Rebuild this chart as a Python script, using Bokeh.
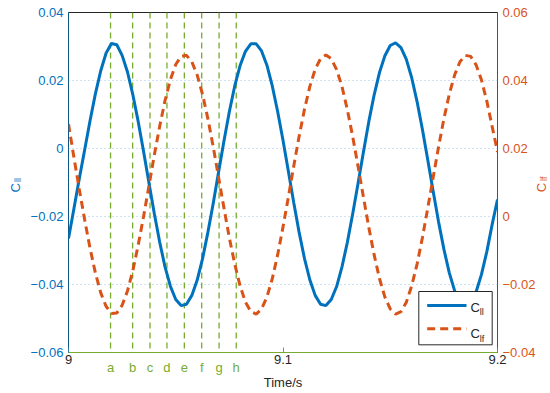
from bokeh.plotting import figure
from bokeh.models import Range1d, LinearAxis, FixedTicker, Span, Label, BoxAnnotation
from bokeh.embed import file_html
from bokeh.resources import INLINE

# ---------------- data ----------------
time = [9.0000, 9.0025, 9.0050, 9.0075, 9.0100, 9.0125, 9.0150, 9.0175, 9.0200, 9.0225,
        9.0250, 9.0275, 9.0300, 9.0325, 9.0350, 9.0375, 9.0400, 9.0425, 9.0450, 9.0475,
        9.0500, 9.0525, 9.0550, 9.0575, 9.0600, 9.0625, 9.0650, 9.0675, 9.0700, 9.0725,
        9.0750, 9.0775, 9.0800, 9.0825, 9.0850, 9.0875, 9.0900, 9.0925, 9.0950, 9.0975,
        9.1000, 9.1025, 9.1050, 9.1075, 9.1100, 9.1125, 9.1150, 9.1175, 9.1200, 9.1225,
        9.1250, 9.1275, 9.1300, 9.1325, 9.1350, 9.1375, 9.1400, 9.1425, 9.1450, 9.1475,
        9.1500, 9.1525, 9.1550, 9.1575, 9.1600, 9.1625, 9.1650, 9.1675, 9.1700, 9.1725,
        9.1750, 9.1775, 9.1800, 9.1825, 9.1850, 9.1875, 9.1900, 9.1925, 9.1950, 9.1975,
        9.2000]

c_ll = [-0.0265, -0.0178, -0.0090, -0.0005, 0.0080, 0.0160, 0.0228, 0.0280, 0.0309, 0.0305,
        0.0274, 0.0225, 0.0158, 0.0079, -0.0009, -0.0101, -0.0191, -0.0275, -0.0348, -0.0405,
        -0.0444, -0.0462, -0.0458, -0.0432, -0.0387, -0.0324, -0.0246, -0.0160, -0.0068, 0.0023,
        0.0109, 0.0184, 0.0244, 0.0286, 0.0308, 0.0308, 0.0287, 0.0245, 0.0184, 0.0109,
        0.0024, -0.0067, -0.0159, -0.0246, -0.0323, -0.0386, -0.0432, -0.0458, -0.0462, -0.0444,
        -0.0406, -0.0348, -0.0276, -0.0192, -0.0102, -0.0010, 0.0079, 0.0158, 0.0224, 0.0273,
        0.0303, 0.0311, 0.0297, 0.0262, 0.0208, 0.0138, 0.0056, -0.0034, -0.0126, -0.0215,
        -0.0296, -0.0365, -0.0418, -0.0451, -0.0463, -0.0453, -0.0422, -0.0371, -0.0304, -0.0224,
        -0.0150]

c_lf = [0.0272, 0.0175, 0.0081, -0.0008, -0.0092, -0.0165, -0.0224, -0.0264, -0.0285, -0.0284,
        -0.0261, -0.0219, -0.0159, -0.0084, 0.0000, 0.0090, 0.0180, 0.0265, 0.0341, 0.0402,
        0.0447, 0.0471, 0.0474, 0.0455, 0.0416, 0.0359, 0.0287, 0.0204, 0.0114, 0.0024,
        -0.0063, -0.0140, -0.0204, -0.0252, -0.0280, -0.0287, -0.0272, -0.0237, -0.0183, -0.0113,
        -0.0031, 0.0057, 0.0148, 0.0235, 0.0315, 0.0382, 0.0433, 0.0464, 0.0475, 0.0464,
        0.0432, 0.0382, 0.0314, 0.0235, 0.0147, 0.0057, -0.0032, -0.0113, -0.0183, -0.0237,
        -0.0272, -0.0287, -0.0280, -0.0252, -0.0204, -0.0140, -0.0062, 0.0025, 0.0115, 0.0204,
        0.0287, 0.0359, 0.0416, 0.0455, 0.0474, 0.0471, 0.0446, 0.0402, 0.0340, 0.0265,
        0.0190]

event_times = [9.0196, 9.0299, 9.0380, 9.0459, 9.0540, 9.0621, 9.0702, 9.0782]
event_labels = ["a", "b", "c", "d", "e", "f", "g", "h"]

x_tick_values = [9.0, 9.1, 9.2]
x_tick_labels = ["9", "9.1", "9.2"]
left_tick_values = [-0.06, -0.04, -0.02, 0.0, 0.02, 0.04]
left_tick_labels = ["\u22120.06", "\u22120.04", "\u22120.02", "0", "0.02", "0.04"]
right_tick_values = [-0.04, -0.02, 0.0, 0.02, 0.04, 0.06]
right_tick_labels = ["\u22120.04", "\u22120.02", "0", "0.02", "0.04", "0.06"]
grid_values = [-0.04, -0.02, 0.0, 0.02]

series_names = ["C", "C"]
series_subs = ["ll", "lf"]
x_title = "Time/s"

# legend geometry (data units of the left axis)
LEG_BOX = dict(left=9.16331, right=9.19753, top=-0.04206, bottom=-0.05774)
LEG_SAMPLE_X = [9.16722, 9.18555]
LEG_ROW_Y = [-0.04618, -0.05303]
LEG_TEXT_X = 9.18741
LEG_SUB_X = 9.19175
LEG_TEXT_Y = [-0.04668, -0.05450]
LEG_SUB_Y = [-0.04815, -0.05597]

# ---------------- styling ----------------
FONT = "Liberation Sans"
BLUE = "#0072BD"
ORANGE = "#D95319"
GREEN = "#77AC30"
DARK = "#262626"

p = figure(frame_width=429, frame_height=340,
           x_range=Range1d(9.0, 9.2), y_range=Range1d(-0.06, 0.04),
           output_backend="svg", toolbar_location=None,
           min_border_left=68, min_border_right=53, min_border_top=12, min_border_bottom=41)
p.extra_y_ranges = {"right": Range1d(-0.04, 0.06)}
p.outline_line_color = DARK
p.outline_line_width = 1
p.background_fill_color = "white"
p.border_fill_color = "white"

p.xgrid.visible = False
p.ygrid.ticker = FixedTicker(ticks=grid_values)
p.ygrid.grid_line_color = "#9cc6e6"
p.ygrid.grid_line_dash = "1 3"
p.ygrid.grid_line_width = 1

# bottom axis
xa = p.xaxis[0]
xa.ticker = FixedTicker(ticks=x_tick_values)
xa.major_label_overrides = dict(zip(x_tick_values, x_tick_labels))
xa.axis_line_color = GREEN
xa.axis_line_width = 1
xa.major_tick_in = 5
xa.major_tick_out = 0
xa.major_tick_line_color = "#8a8a8a"
xa.minor_tick_line_color = None
xa.major_label_standoff = 2
xa.major_label_text_font = FONT
xa.major_label_text_font_size = "13px"
xa.major_label_text_color = DARK

# left axis
ya = p.yaxis[0]
ya.ticker = FixedTicker(ticks=left_tick_values)
ya.major_label_overrides = dict(zip(left_tick_values, left_tick_labels))
ya.axis_line_color = BLUE
ya.axis_line_alpha = 0.65
ya.major_tick_out = 0
ya.major_tick_line_color = None
ya.minor_tick_line_color = None
ya.major_label_standoff = 5
ya.major_label_text_font = FONT
ya.major_label_text_font_size = "13px"
ya.major_label_text_color = BLUE

# right axis
ra = LinearAxis(y_range_name="right", ticker=FixedTicker(ticks=right_tick_values))
ra.major_label_overrides = dict(zip(right_tick_values, right_tick_labels))
ra.axis_line_color = ORANGE
ra.axis_line_alpha = 0.55
ra.major_tick_out = 0
ra.major_tick_line_color = None
ra.minor_tick_line_color = None
ra.major_label_standoff = 5
ra.major_label_text_font = FONT
ra.major_label_text_font_size = "13px"
ra.major_label_text_color = ORANGE
p.add_layout(ra, "right")

# event lines
for t in event_times:
    p.add_layout(Span(location=t, dimension="height", line_color=GREEN,
                      line_width=1.3, line_dash="6 4", level="underlay"))

# series
p.line(time, c_ll, line_color=BLUE, line_width=3)
p.line(time, c_lf, y_range_name="right", line_color=ORANGE, line_width=3, line_dash="8 5")


def lab(x, y, text, panel, size="13px", color=DARK, angle=0.0, align="left"):
    p.add_layout(Label(x=x, y=y, text=text, text_font=FONT, text_font_size=size,
                       text_color=color, angle=angle, text_align=align,
                       text_baseline="alphabetic"), panel)


# legend: box, samples, texts
p.add_layout(BoxAnnotation(left=LEG_BOX["left"], right=LEG_BOX["right"],
                           top=LEG_BOX["top"], bottom=LEG_BOX["bottom"],
                           fill_color="white", fill_alpha=1.0,
                           line_color=DARK, line_width=1, line_alpha=1.0))
p.line(LEG_SAMPLE_X, [LEG_ROW_Y[0]] * 2, line_color=BLUE, line_width=3, level="overlay")
p.line(LEG_SAMPLE_X, [LEG_ROW_Y[1]] * 2, line_color=ORANGE, line_width=3,
       line_dash="8 5", level="overlay")
for i in range(2):
    lab(LEG_TEXT_X, LEG_TEXT_Y[i], series_names[i], "center")
    lab(LEG_SUB_X, LEG_SUB_Y[i], series_subs[i], "center", size="9px")

# axis titles: kept in the right side panel (not clipped, and its growth
# does not move the plot frame); positioned in data units
lab(8.97543, -0.01294, series_names[0], "right", color=BLUE, angle=1.5708)
lab(8.97660, -0.00985, series_subs[0], "right", size="9px", color=BLUE, angle=1.5708)
lab(9.22070, -0.01285, series_names[1], "right", color=ORANGE, angle=1.5708)
lab(9.22170, -0.00956, series_subs[1], "right", size="9px", color=ORANGE, angle=1.5708)
lab(9.1, -0.06897, x_title, "below", align="center")

# event letters
for t, s in zip(event_times, event_labels):
    lab(t, -0.06441, s, "below", color=GREEN, align="center")

open("out.html", "w").write(file_html(p, INLINE))
